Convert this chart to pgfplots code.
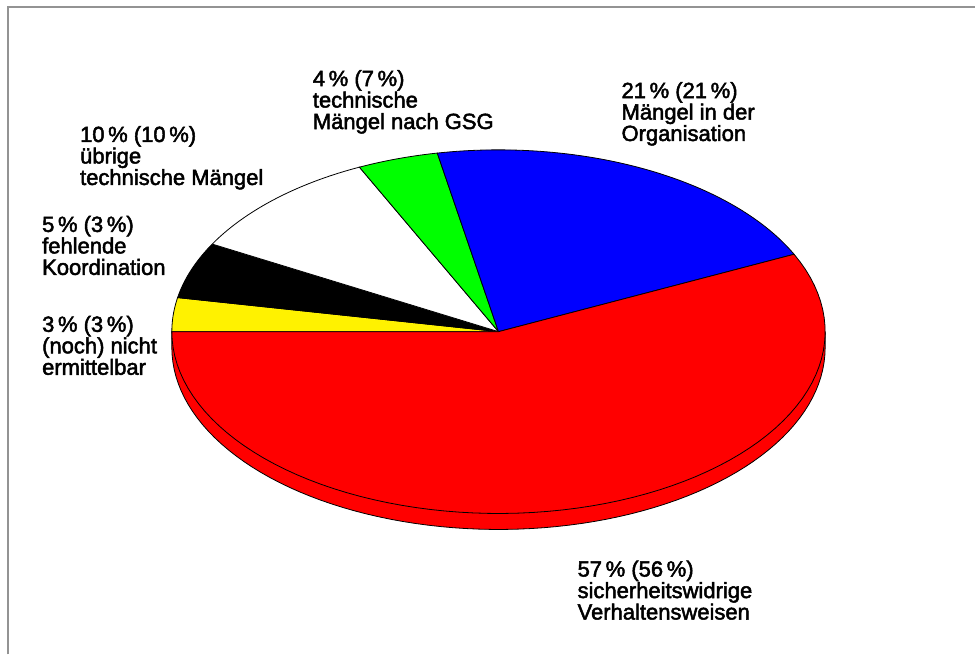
\documentclass[border=0pt]{standalone}
\usepackage{pgfplots}
\pgfplotsset{compat=1.18}
\usepackage{fontspec}
\setmainfont{Liberation Sans}
\newfontfamily\lblfont[FakeBold=2.2]{Liberation Sans}
\tikzset{lbl/.style={anchor=north west, align=left, inner sep=0pt, font=\lblfont\fontsize{22}{21.5}\selectfont}}
\begin{document}
\begin{tikzpicture}
% shares in percent
\def\pYellow{3}\def\pBlack{5}\def\pWhite{10}\def\pGreen{4}\def\pBlue{21}\def\pRed{57}
\pgfmathsetmacro\tA{180}
\pgfmathsetmacro\tB{\tA-3.6*\pYellow}
\pgfmathsetmacro\tC{\tB-3.6*\pBlack}
\pgfmathsetmacro\tD{\tC-3.6*\pWhite}
\pgfmathsetmacro\tE{\tD-3.6*\pGreen}
\pgfmathsetmacro\tF{\tE-3.6*\pBlue}
\pgfmathsetmacro\tG{\tF-3.6*\pRed}
\begin{axis}[
  x=1pt, y=1pt, y dir=reverse,
  xmin=0, xmax=976, ymin=0, ymax=655,
  axis line style={draw=none}, ticks=none,
  clip=false, no markers,
  every axis plot/.append style={line width=0.8pt, samples=80},
]
% border
\addplot[draw=gray!85, line width=2pt] coordinates {(8,655) (8,7) (976,7)};
% side of the pie
\addplot[fill=red, draw=black, domain=180:360] ({499+327*cos(x)},{348-182*sin(x)}) -- (826,332) -- (172,332) -- cycle;
% top face
\addplot[fill=yellow, draw=black, domain=\tB:\tA] ({499+327*cos(x)},{332-182*sin(x)}) -- (499,332) -- cycle;
\addplot[fill=black, draw=black, domain=\tC:\tB] ({499+327*cos(x)},{332-182*sin(x)}) -- (499,332) -- cycle;
\addplot[fill=white, draw=black, domain=\tD:\tC] ({499+327*cos(x)},{332-182*sin(x)}) -- (499,332) -- cycle;
\addplot[fill=green, draw=black, domain=\tE:\tD] ({499+327*cos(x)},{332-182*sin(x)}) -- (499,332) -- cycle;
\addplot[fill=blue, draw=black, domain=\tF:\tE] ({499+327*cos(x)},{332-182*sin(x)}) -- (499,332) -- cycle;
\addplot[fill=red, draw=black, domain=\tG:\tF] ({499+327*cos(x)},{332-182*sin(x)}) -- (499,332) -- cycle;
% labels
\node[lbl] at (313,70) {4\,\% (7\,\%)\\technische\\Mängel nach GSG};
\node[lbl] at (622,82) {21\,\% (21\,\%)\\Mängel in der\\Organisation};
\node[lbl] at (80,126) {10\,\% (10\,\%)\\übrige\\technische Mängel};
\node[lbl] at (42,216) {5\,\% (3\,\%)\\fehlende\\Koordination};
\node[lbl] at (42,316) {3\,\% (3\,\%)\\(noch) nicht\\ermittelbar};
\node[lbl] at (578,561) {57\,\% (56\,\%)\\sicherheitswidrige\\Verhaltensweisen};
\end{axis}
\end{tikzpicture}
\end{document}
